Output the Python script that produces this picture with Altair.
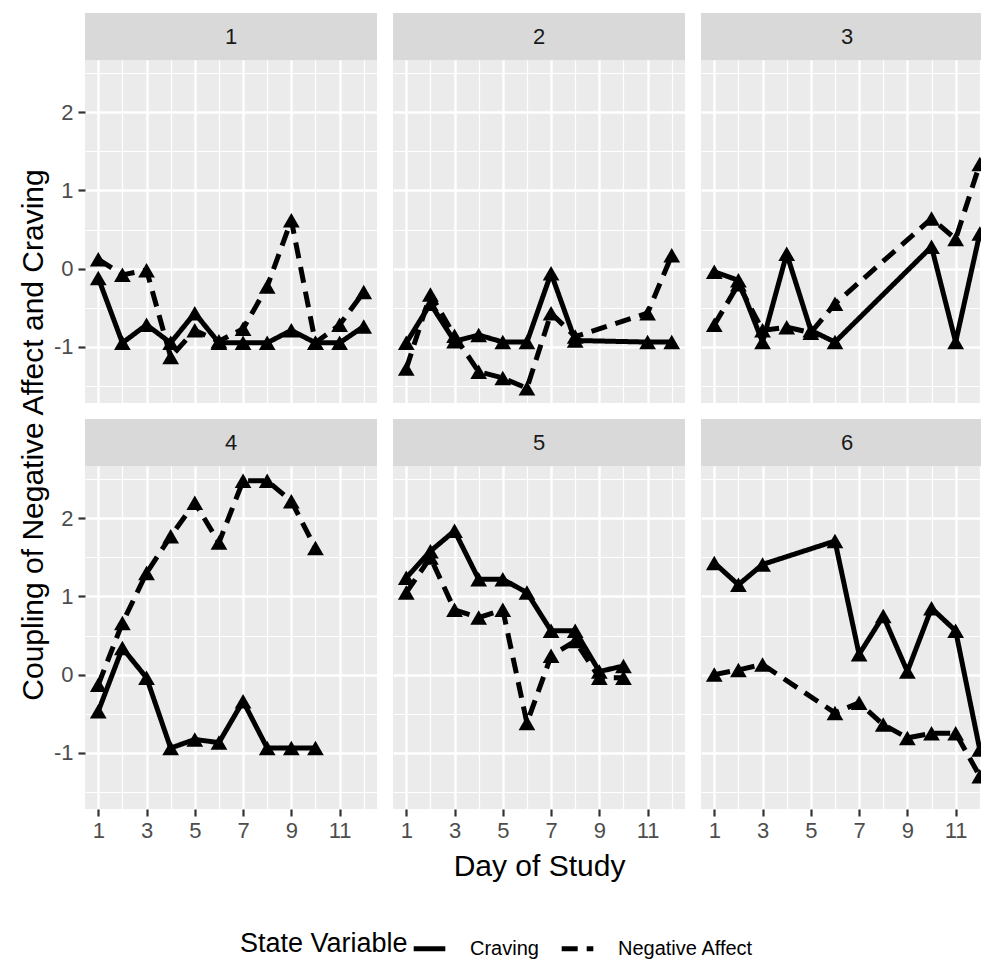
import altair as alt
import pandas as pd

FONT = "Liberation Sans"

panels = ["1", "2", "3", "4", "5", "6"]
variables = ["Craving", "Negative Affect"]

crav_days = {
    "1": [1, 2, 3, 4, 5, 6, 7, 8, 9, 10, 11, 12],
    "2": [1, 2, 3, 4, 5, 6, 7, 8, 11, 12],
    "3": [1, 2, 3, 4, 5, 6, 10, 11, 12],
    "4": [1, 2, 3, 4, 5, 6, 7, 8, 9, 10],
    "5": [1, 2, 3, 4, 5, 6, 7, 8, 9, 10],
    "6": [1, 2, 3, 6, 7, 8, 9, 10, 11, 12],
}
crav_vals = {
    "1": [-0.12, -0.95, -0.72, -0.95, -0.57, -0.95, -0.95, -0.95, -0.79, -0.95, -0.95, -0.74],
    "2": [-0.95, -0.45, -0.93, -0.85, -0.94, -0.94, -0.06, -0.92, -0.94, -0.94],
    "3": [-0.04, -0.15, -0.94, 0.19, -0.79, -0.94, 0.28, -0.94, 0.45],
    "4": [-0.47, 0.34, -0.04, -0.94, -0.83, -0.87, -0.34, -0.94, -0.94, -0.94],
    "5": [1.24, 1.58, 1.84, 1.22, 1.22, 1.05, 0.56, 0.56, 0.04, 0.11],
    "6": [1.43, 1.15, 1.41, 1.71, 0.26, 0.75, 0.04, 0.85, 0.56, -0.96],
}
na_days = {
    "1": [1, 2, 3, 4, 5, 6, 7, 8, 9, 10, 11, 12],
    "2": [1, 2, 3, 4, 5, 6, 7, 8, 11, 12],
    "3": [1, 2, 3, 4, 5, 6, 10, 11, 12],
    "4": [1, 2, 3, 4, 5, 6, 7, 8, 9, 10],
    "5": [1, 2, 3, 4, 5, 6, 7, 8, 9, 10],
    "6": [1, 2, 3, 6, 7, 8, 9, 10, 11, 12],
}
na_vals = {
    "1": [0.12, -0.08, -0.02, -1.13, -0.79, -0.93, -0.77, -0.23, 0.62, -0.95, -0.72, -0.30],
    "2": [-1.28, -0.33, -0.86, -1.32, -1.40, -1.53, -0.57, -0.87, -0.57, 0.17],
    "3": [-0.72, -0.20, -0.79, -0.75, -0.82, -0.45, 0.64, 0.38, 1.34],
    "4": [-0.13, 0.66, 1.30, 1.77, 2.20, 1.69, 2.48, 2.48, 2.22, 1.62],
    "5": [1.05, 1.50, 0.83, 0.73, 0.83, -0.62, 0.24, 0.43, -0.04, -0.04],
    "6": [0.00, 0.06, 0.13, -0.49, -0.36, -0.64, -0.81, -0.75, -0.75, -1.30],
}

X_TICKS = list(range(1, 13))
Y_TICKS = [-1.5, -1, -0.5, 0, 0.5, 1, 1.5, 2, 2.5]
X_TITLE = "Day of Study"
Y_TITLE = "Coupling of Negative Affect and Craving"
LEGEND_TITLE = "State Variable"

rows = []
for p in panels:
    for d, v in zip(crav_days[p], crav_vals[p]):
        rows.append({"panel": p, "variable": variables[0], "day": d, "value": v})
    for d, v in zip(na_days[p], na_vals[p]):
        rows.append({"panel": p, "variable": variables[1], "day": d, "value": v})
df = pd.DataFrame(rows)

PW, PW_LAST, PH, SH, GAP = 292, 280, 343, 47, 16
TICK_FS, TITLE_FS = 22, 30

legend = alt.Legend(
    orient="none", legendX=155, legendY=917, direction="horizontal",
    titleOrient="left", title=LEGEND_TITLE, titleFontSize=27, titleFont=FONT,
    titleColor="black", titleFontWeight="normal", titleBaseline="middle",
    titlePadding=3, labelFontSize=20, labelFont=FONT, labelColor="black",
    symbolType="stroke", symbolSize=1000, symbolStrokeWidth=5,
    symbolStrokeColor="black", labelOffset=22, columnPadding=12,
)


def make_plot(idx):
    p = panels[idx]
    r, c = divmod(idx, 3)
    w = PW if c < 2 else PW_LAST
    xmax = 12.55 if c < 2 else 12.05
    sub = df[df.panel == p]

    xaxis_kw = dict(
        values=X_TICKS, domain=False, grid=True, gridColor="white",
        gridWidth={"condition": {"test": "datum.value % 2 === 1", "value": 2.4}, "value": 1.2},
        labels=(r == 1), ticks=(r == 1),
        tickColor={"condition": {"test": "datum.value % 2 === 1", "value": "#333333"}, "value": "transparent"},
        tickSize=7, tickWidth=2.2,
        labelExpr="datum.value % 2 === 1 ? '' + datum.value : ''",
        labelFontSize=TICK_FS, labelColor="#4D4D4D", labelFont=FONT, labelPadding=4,
        title=None,
    )
    if idx == 4:
        xaxis_kw.update(title=X_TITLE, titleFontSize=TITLE_FS, titleFont=FONT, titleColor="black",
                        titleFontWeight="normal", titleY=57, titleBaseline="middle")
    yaxis_kw = dict(
        values=Y_TICKS, domain=False, grid=True, gridColor="white",
        gridWidth={"condition": {"test": "datum.value % 1 === 0", "value": 2.4}, "value": 1.2},
        labels=(c == 0), ticks=(c == 0),
        tickColor={"condition": {"test": "datum.value % 1 === 0", "value": "#333333"}, "value": "transparent"},
        tickSize=7, tickWidth=2.2,
        labelExpr="datum.value % 1 === 0 ? '' + datum.value : ''",
        labelFontSize=TICK_FS, labelColor="#4D4D4D", labelFont=FONT, labelPadding=5,
        title=None,
    )
    if idx == 3:
        yaxis_kw.update(title=Y_TITLE, titleFontSize=TITLE_FS, titleFont=FONT, titleColor="black",
                        titleFontWeight="normal", titleX=-52, titleY=-31.5,
                        titleAngle=270, titleBaseline="middle", titleAlign="center")

    base = alt.Chart(sub).encode(
        x=alt.X("day:Q", scale=alt.Scale(domain=[0.45, xmax], nice=False, zero=False),
                axis=alt.Axis(**xaxis_kw)),
        y=alt.Y("value:Q", scale=alt.Scale(domain=[-1.72, 2.67], nice=False, zero=False),
                axis=alt.Axis(**yaxis_kw)),
    )
    lines = base.mark_line(color="black", strokeWidth=5, strokeJoin="round", clip=True).encode(
        strokeDash=alt.StrokeDash(
            "variable:N",
            scale=alt.Scale(domain=variables, range=[[1, 0], [16, 9]]),
            legend=legend,
        )
    )
    pts = base.mark_point(shape="triangle-up", filled=True, color="black", opacity=1,
                          size=280, clip=True)
    return alt.layer(lines, pts).properties(
        width=w, height=PH, view=alt.ViewBackground(fill="#EBEBEB", strokeWidth=0)
    )


def make_strip(idx):
    p = panels[idx]
    r, c = divmod(idx, 3)
    w = PW if c < 2 else PW_LAST
    top = 0 if r == 0 else GAP
    sdf = pd.DataFrame({"label": [p]})
    band = alt.Chart(sdf).mark_rect(color="#D9D9D9").encode(
        x=alt.value(0), x2=alt.value(w), y=alt.value(top), y2=alt.value(top + SH)
    )
    txt = alt.Chart(sdf).mark_text(
        fontSize=TICK_FS, font=FONT, color="#1A1A1A", baseline="middle", align="center"
    ).encode(text="label:N", x=alt.value(PW / 2), y=alt.value(top + SH / 2))
    return alt.layer(band, txt).properties(width=w, height=top + SH)


items = []
for r in range(2):
    items += [make_strip(r * 3 + c) for c in range(3)]
    items += [make_plot(r * 3 + c) for c in range(3)]

chart = alt.concat(
    *items, columns=3, spacing={"row": 0, "column": GAP}, bounds="flush", align="each"
).resolve_scale(strokeDash="shared").properties(
    padding={"left": 17, "top": 13, "right": 0, "bottom": 0}, background="white"
).configure_view(strokeWidth=0)

chart.save("out.html", embed_options={"renderer": "svg", "actions": False})
